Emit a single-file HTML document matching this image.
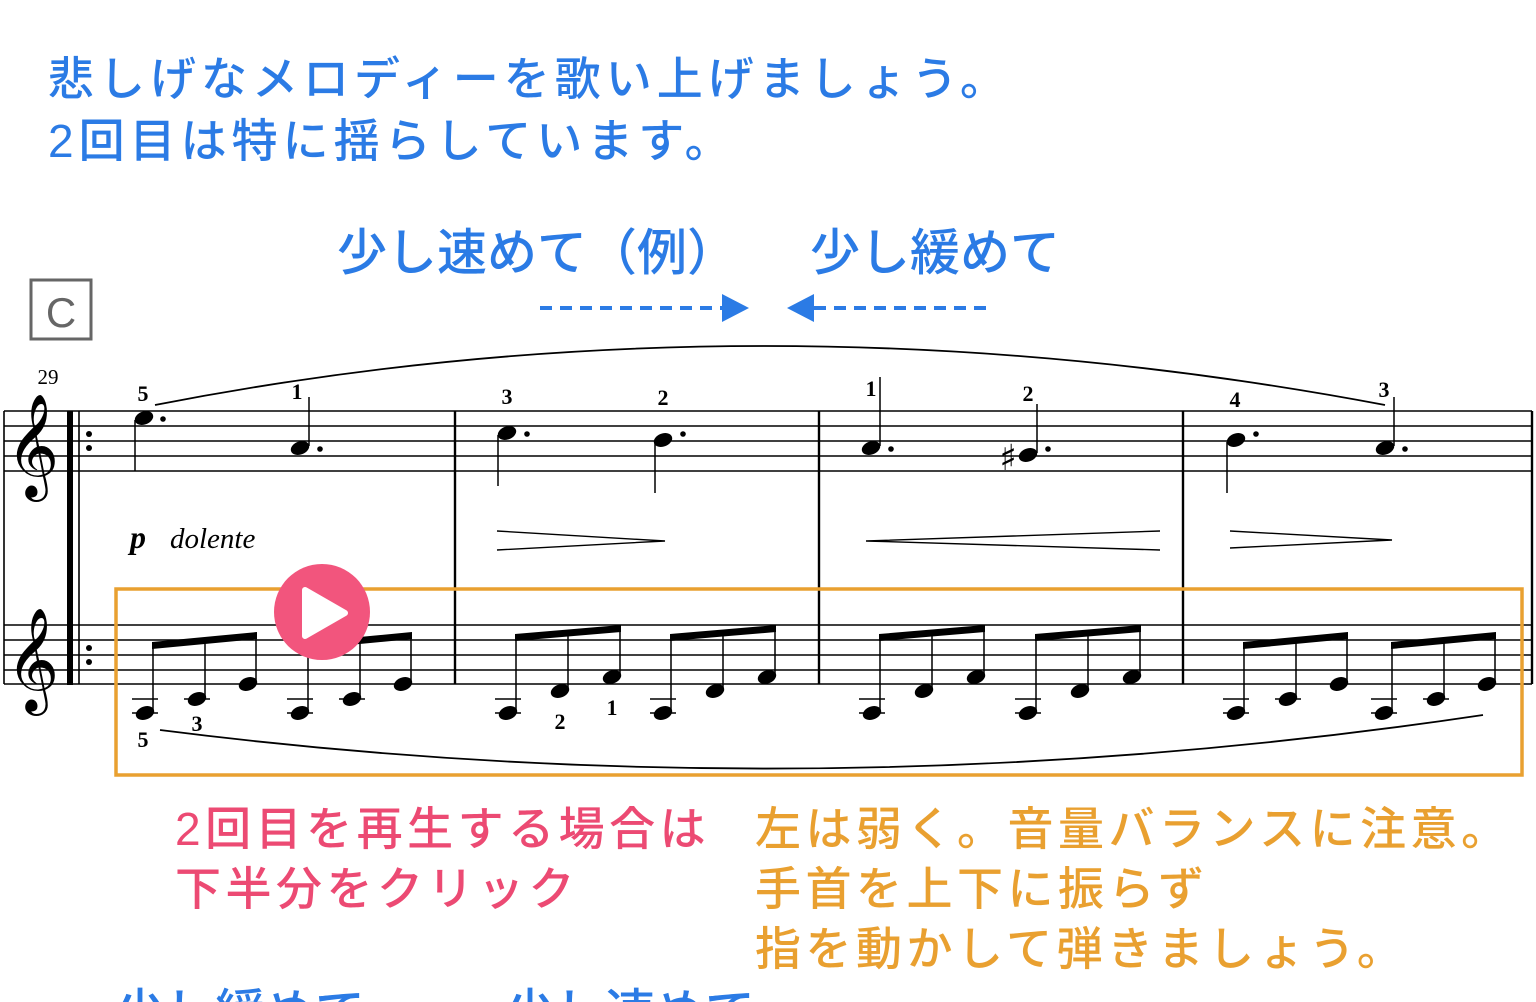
<!DOCTYPE html>
<html><head><meta charset="utf-8"><style>
html,body{margin:0;padding:0;background:#fff;width:1536px;height:1002px;overflow:hidden}
svg{display:block}
.jp{font-family:"Liberation Sans","Noto Sans CJK JP",sans-serif;font-weight:500}
.f{font-family:"Liberation Serif",serif;font-weight:bold;font-size:22px;text-anchor:middle}
</style></head><body>
<svg width="1536" height="1002" viewBox="0 0 1536 1002" xmlns="http://www.w3.org/2000/svg">
<g class="jp" fill="#2B7BE5" font-size="46">
<text x="48" y="95" letter-spacing="5">悲しげなメロディーを歌い上げましょう。</text>
<text x="48" y="157" letter-spacing="5">2回目は特に揺らしています。</text>
<text x="337" y="270" font-size="50">少し速めて（例）</text>
<text x="810" y="270" font-size="50">少し緩めて</text>
<text x="115" y="1030" font-size="50">少し緩めて</text>
<text x="505" y="1030" font-size="50">少し速めて</text>
</g>
<g stroke="#2B7BE5" stroke-width="4" stroke-dasharray="12,8">
<line x1="540" y1="308" x2="722" y2="308"/><line x1="814" y1="308" x2="990" y2="308"/>
</g>
<polygon points="722,294 749,308 722,322" fill="#2B7BE5"/>
<polygon points="814,294 787,308 814,322" fill="#2B7BE5"/>
<rect x="31" y="280" width="60" height="59" fill="none" stroke="#666" stroke-width="3"/>
<text x="61" y="327" font-family="Liberation Sans,sans-serif" font-size="42" fill="#666" text-anchor="middle">C</text>
<text x="48" y="384" font-family="Liberation Serif,serif" font-size="21" text-anchor="middle">29</text>
<g stroke="#000" stroke-width="1.6">
<line x1="4" y1="411" x2="1532" y2="411"/><line x1="4" y1="426" x2="1532" y2="426"/><line x1="4" y1="441" x2="1532" y2="441"/><line x1="4" y1="456" x2="1532" y2="456"/><line x1="4" y1="471" x2="1532" y2="471"/>
<line x1="4" y1="625" x2="1532" y2="625"/><line x1="4" y1="640" x2="1532" y2="640"/><line x1="4" y1="655" x2="1532" y2="655"/><line x1="4" y1="670" x2="1532" y2="670"/><line x1="4" y1="684" x2="1532" y2="684"/>
<line x1="4" y1="411" x2="4" y2="684"/>
<line x1="79" y1="411" x2="79" y2="684"/>
</g>
<rect x="67" y="411" width="6" height="274" fill="#000"/>
<g stroke="#000" stroke-width="2.4"><line x1="455" y1="411" x2="455" y2="684"/><line x1="819" y1="411" x2="819" y2="684"/><line x1="1183" y1="411" x2="1183" y2="684"/><line x1="1532" y1="411" x2="1532" y2="684"/></g>
<g fill="#000"><circle cx="89" cy="434" r="3"/><circle cx="89" cy="448" r="3"/><circle cx="89" cy="648" r="3"/><circle cx="89" cy="662" r="3"/></g>
<g font-family="DejaVu Sans,sans-serif" font-size="90"><text x="6" y="476">𝄞</text><text x="6" y="690">𝄞</text></g>
<g fill="#000">
<ellipse cx="144" cy="418" rx="9.5" ry="6.5" transform="rotate(-20 144 418)"/><circle cx="163" cy="419" r="2.8"/>
<ellipse cx="300" cy="448" rx="9.5" ry="6.5" transform="rotate(-20 300 448)"/><circle cx="320" cy="449" r="2.8"/>
<ellipse cx="507" cy="433" rx="9.5" ry="6.5" transform="rotate(-20 507 433)"/><circle cx="527" cy="434" r="2.8"/>
<ellipse cx="663" cy="440" rx="9.5" ry="6.5" transform="rotate(-20 663 440)"/><circle cx="683" cy="434" r="2.8"/>
<ellipse cx="871" cy="448" rx="9.5" ry="6.5" transform="rotate(-20 871 448)"/><circle cx="891" cy="449" r="2.8"/>
<ellipse cx="1028" cy="455" rx="9.5" ry="6.5" transform="rotate(-20 1028 455)"/><circle cx="1048" cy="449" r="2.8"/>
<ellipse cx="1236" cy="440" rx="9.5" ry="6.5" transform="rotate(-20 1236 440)"/><circle cx="1256" cy="434" r="2.8"/>
<ellipse cx="1385" cy="448" rx="9.5" ry="6.5" transform="rotate(-20 1385 448)"/><circle cx="1405" cy="449" r="2.8"/>
</g>
<text x="1008" y="470" font-family="DejaVu Sans,sans-serif" font-size="36" text-anchor="middle">♯</text>
<g stroke="#000" stroke-width="1.5">
<line x1="135" y1="420" x2="135" y2="471"/><line x1="309" y1="446" x2="309" y2="397"/>
<line x1="498" y1="435" x2="498" y2="486"/><line x1="655" y1="442" x2="655" y2="493"/>
<line x1="880" y1="446" x2="880" y2="377"/><line x1="1037" y1="453" x2="1037" y2="404"/>
<line x1="1227" y1="442" x2="1227" y2="493"/><line x1="1394" y1="446" x2="1394" y2="397"/>
</g>
<g class="f"><text x="143" y="401">5</text><text x="297" y="399">1</text><text x="507" y="404">3</text><text x="663" y="405">2</text><text x="871" y="396">1</text><text x="1028" y="401">2</text><text x="1235" y="407">4</text><text x="1384" y="397">3</text></g>
<path d="M155,405 Q760,287 1385,405" fill="none" stroke="#000" stroke-width="1.8"/>
<text x="130" y="548" font-family="Liberation Serif,serif" font-weight="bold" font-style="italic" font-size="32">p</text>
<text x="170" y="548" font-family="Liberation Serif,serif" font-style="italic" font-size="29">dolente</text>
<g stroke="#000" stroke-width="1.4" fill="none">
<polyline points="497,531 665,541 497,550"/>
<polyline points="1160,531 866,541 1160,550"/>
<polyline points="1230,531 1392,540 1230,548"/>
</g>
<g fill="#000" stroke="#000">
<g id="g1">
<line x1="132" y1="713" x2="158" y2="713" stroke-width="1.6"/><line x1="132" y1="699" x2="158" y2="699" stroke-width="1.6"/>
<line x1="184" y1="699" x2="210" y2="699" stroke-width="1.6"/>
<ellipse cx="145" cy="713" rx="9.5" ry="6.5" transform="rotate(-20 145 713)" stroke="none"/>
<ellipse cx="197" cy="699" rx="9.5" ry="6.5" transform="rotate(-20 197 699)" stroke="none"/>
<ellipse cx="248" cy="684" rx="9.5" ry="6.5" transform="rotate(-20 248 684)" stroke="none"/>
<line x1="153" y1="711" x2="153" y2="645" stroke-width="1.5"/><line x1="205" y1="697" x2="205" y2="642" stroke-width="1.5"/><line x1="256" y1="682" x2="256" y2="636" stroke-width="1.5"/>
<polygon points="152,642 257,632 257,639 152,649" stroke="none"/>
</g>
<use href="#g1" x="155"/>
<use href="#g1" x="1091"/>
<use href="#g1" x="1239"/>
<g id="g2">
<line x1="495" y1="713" x2="521" y2="713" stroke-width="1.6"/><line x1="495" y1="699" x2="521" y2="699" stroke-width="1.6"/>
<ellipse cx="508" cy="713" rx="9.5" ry="6.5" transform="rotate(-20 508 713)" stroke="none"/>
<ellipse cx="560" cy="691" rx="9.5" ry="6.5" transform="rotate(-20 560 691)" stroke="none"/>
<ellipse cx="612" cy="677" rx="9.5" ry="6.5" transform="rotate(-20 612 677)" stroke="none"/>
<line x1="516" y1="711" x2="516" y2="637" stroke-width="1.5"/><line x1="568" y1="689" x2="568" y2="633" stroke-width="1.5"/><line x1="620" y1="675" x2="620" y2="628" stroke-width="1.5"/>
<polygon points="515,634 621,625 621,632 515,641" stroke="none"/>
</g>
<use href="#g2" x="155"/>
<use href="#g2" x="364"/>
<use href="#g2" x="520"/>
</g>
<g class="f"><text x="143" y="747">5</text><text x="197" y="731">3</text><text x="560" y="729">2</text><text x="612" y="715">1</text></g>
<path d="M160,730 Q820,814 1483,715" fill="none" stroke="#000" stroke-width="1.8"/>
<rect x="116" y="589" width="1406" height="186" fill="none" stroke="#E9A030" stroke-width="3.5"/>
<circle cx="322" cy="612" r="48" fill="#F2557D"/>
<path d="M305,590 L345,613 L305,636 Z" fill="#fff" stroke="#fff" stroke-width="6" stroke-linejoin="round"/>
<g class="jp" font-size="46" letter-spacing="4.5">
<text x="175" y="845" fill="#EC4A73">2回目を再生する場合は</text>
<text x="175" y="905" fill="#EC4A73">下半分をクリック</text>
<text x="755" y="845" fill="#E9A030">左は弱く。音量バランスに注意。</text>
<text x="755" y="905" fill="#E9A030">手首を上下に振らず</text>
<text x="755" y="965" fill="#E9A030">指を動かして弾きましょう。</text>
</g>
</svg>
</body></html>
